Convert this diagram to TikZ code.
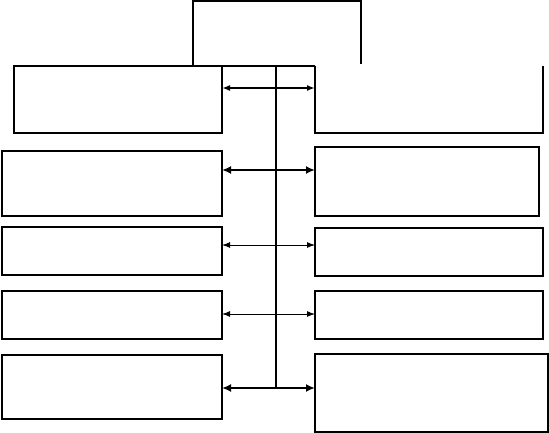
\documentclass[tikz,border=0pt]{standalone}
\usepackage{tikz}
\usetikzlibrary{arrows.meta, positioning, calc}

\begin{document}
\begin{tikzpicture}[x=1pt, y=-1pt,
  box/.style={line width=1.2pt, inner sep=0pt, outer sep=0pt, anchor=north west},
  link/.style={{Latex[length=8pt,width=6pt]}-{Latex[length=8pt,width=6pt]}},
  boldlink/.style={{Latex[length=9pt,width=8pt]}-{Latex[length=9pt,width=8pt]}}]
\useasboundingbox (0,0) rectangle (549,433);
% --- Head (open at the bottom) ---
\node[box, minimum width=168pt, minimum height=65pt] (head) at (193,1) {};
\draw[line width=1.2pt] (head.south west) -- (head.north west) -- (head.north east) -- ([yshift=2pt]head.south east);
% --- Left column ---
\node[box, draw, minimum width=208pt, minimum height=67pt] (l1) at (14,66) {};
\node[box, draw, minimum width=220pt, minimum height=65pt] (l2) at (2,151) {};
\node[box, draw, minimum width=220pt, minimum height=48pt] (l3) at (2,227) {};
\node[box, draw, minimum width=220pt, minimum height=48pt] (l4) at (2,291) {};
\node[box, draw, minimum width=220pt, minimum height=64pt] (l5) at (2,355) {};
% --- Right column ---
\node[box, minimum width=228pt, minimum height=67pt] (r1) at (315,66) {};
\draw[line width=1.2pt] (r1.north west) -- (r1.south west) -- (r1.south east) -- (r1.north east);
\node[box, draw, minimum width=224pt, minimum height=69pt] (r2) at (315,147) {};
\node[box, draw, minimum width=228pt, minimum height=48pt] (r3) at (315,228) {};
\node[box, draw, minimum width=228pt, minimum height=48pt] (r4) at (315,291) {};
\node[box, draw, minimum width=233pt, minimum height=78pt] (r5) at (315,354) {};
% --- Spine ---
\coordinate (hub) at (276,66);
\foreach \i/\y in {1/88, 2/170, 3/245, 4/314, 5/388} {
  \coordinate (a\i) at (0,\y);
}
\draw[line width=1.2pt] (l1.north east) -- (r1.north west);
\draw[line width=1.2pt] (hub) -- (hub |- a5);
% Arrows: left box <-> right box
\draw[link, line width=1.6pt] (l1.east |- a1) -- (r1.west |- a1);
\draw[boldlink, line width=2.6pt] (l2.east |- a2) -- (r2.west |- a2);
\draw[link, line width=1pt] (l3.east |- a3) -- (r3.west |- a3);
\draw[link, line width=1pt] (l4.east |- a4) -- (r4.west |- a4);
\draw[boldlink, line width=2.6pt] (l5.east |- a5) -- (r5.west |- a5);
\end{tikzpicture}
\end{document}
